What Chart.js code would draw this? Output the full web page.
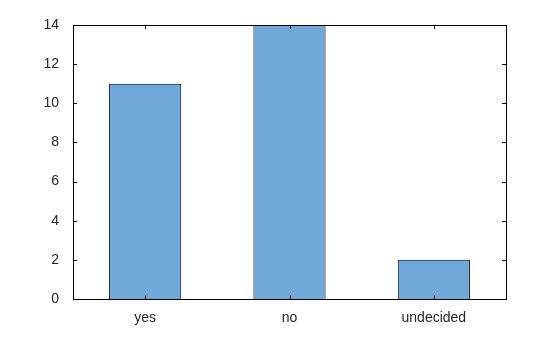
<!DOCTYPE html>
<html>
<head>
<meta charset="utf-8">
<script src="https://cdn.jsdelivr.net/npm/chart.js@4/dist/chart.umd.min.js"></script>
<style>
  html, body { margin: 0; padding: 0; background: #fff; }
</style>
</head>
<body>
<canvas id="chart" width="560" height="337"></canvas>
<script>
var categories = ["yes", "no", "undecided"];
var votes = [11, 14, 2];
var yTicks = [0, 2, 4, 6, 8, 10, 12, 14];

// box round the plot area plus short inward ticks on all four sides
var boxTicks = {
  id: 'boxTicks',
  afterDraw: function (chart) {
    var ctx = chart.ctx;
    var a = chart.chartArea;
    var x = chart.scales.x;
    var y = chart.scales.y;
    var len = 4;
    ctx.save();
    ctx.strokeStyle = '#000';
    ctx.lineWidth = 1;
    ctx.beginPath();
    yTicks.forEach(function (v) {
      var py = Math.round(y.getPixelForValue(v)) + 0.5;
      ctx.moveTo(a.left, py); ctx.lineTo(a.left + len, py);
      ctx.moveTo(a.right, py); ctx.lineTo(a.right - len, py);
    });
    categories.forEach(function (c, i) {
      var px = Math.round(x.getPixelForValue(i)) + 0.5;
      ctx.moveTo(px, a.top); ctx.lineTo(px, a.top + len);
      ctx.moveTo(px, a.bottom); ctx.lineTo(px, a.bottom - len);
    });
    ctx.stroke();
    ctx.strokeRect(Math.round(a.left) + 0.5, Math.round(a.top) + 0.5,
      Math.round(a.right - a.left), Math.round(a.bottom - a.top));
    ctx.restore();
  }
};

var tickFont = { family: 'Liberation Sans, Arial', size: 14 };

new Chart(document.getElementById('chart'), {
  type: 'bar',
  data: {
    labels: categories,
    datasets: [{
      data: votes,
      backgroundColor: 'rgb(111,169,217)',
      borderColor: '#000',
      borderWidth: 1,
      barPercentage: 0.5,
      categoryPercentage: 1
    }]
  },
  options: {
    responsive: false,
    animation: false,
    layout: { padding: { left: 10, right: 54, top: 25, bottom: 0 } },
    plugins: { legend: { display: false }, tooltip: { enabled: false } },
    scales: {
      x: {
        grid: { display: false },
        border: { display: false },
        ticks: { color: '#262626', padding: 3, font: tickFont },
        afterFit: function (s) { s.height = 38; }
      },
      y: {
        min: 0,
        max: 14,
        grid: { display: false },
        border: { display: false },
        ticks: { stepSize: 2, color: '#262626', padding: 6, font: tickFont },
        afterFit: function (s) { s.width = 63; }
      }
    }
  },
  plugins: [boxTicks]
});
</script>
</body>
</html>
